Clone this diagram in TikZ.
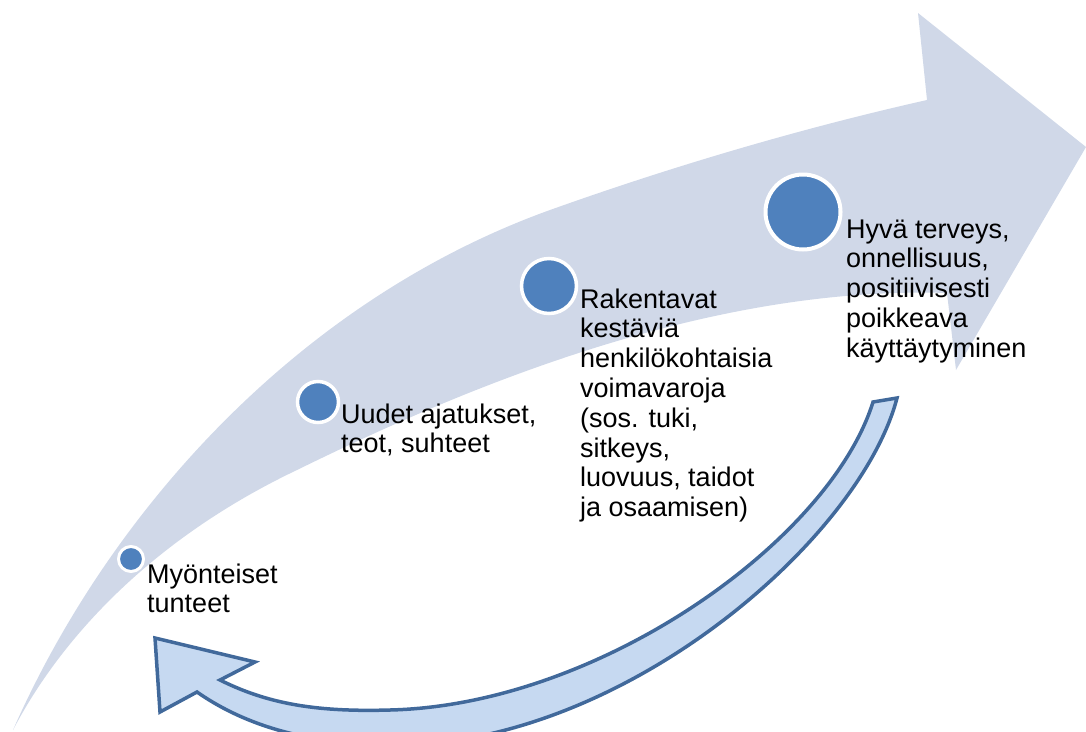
\documentclass[tikz,border=0pt]{standalone}
\usepackage{fontspec}
\setmainfont{Liberation Sans}
\definecolor{bandfill}{HTML}{D0D8E8}
\definecolor{dotfill}{HTML}{4F81BD}
\definecolor{loopfill}{HTML}{C6D9F1}
\definecolor{loopline}{HTML}{41699B}
\begin{document}
\begin{tikzpicture}[x=1pt,y=-1pt,
  dot/.style={circle,fill=dotfill,draw=white,inner sep=0pt},
  steptext/.style={anchor=base west,align=left,inner sep=0pt,
    font=\fontsize{27}{29.8}\selectfont}]
\useasboundingbox (0,0) rectangle (1086,731);
\clip (0,0) rectangle (1086,731);

% rising swoosh arrow
\fill[bandfill] (13,730) .. controls (110,510) and (300,300) .. (550,210)
  .. controls (690,160) and (820,124) .. (927,100)
  -- (918,13) -- (1086,147) -- (956,370) -- (947,293)
  .. controls (700,285) and (450,395) .. (297,470)
  .. controls (150,540) and (60,640) .. (13,730) -- cycle;

% returning loop arrow
\filldraw[fill=loopfill,draw=loopline,line width=3.5pt,line join=miter]
  (873,402) -- (897,398)
  .. controls (860,540) and (620,748) .. (390,745)
  .. controls (300,744) and (240,722) .. (197,692)
  -- (160,712) -- (155,638) -- (255,662) -- (220,680)
  .. controls (270,705) and (320,712) .. (390,710)
  .. controls (600,705) and (830,540) .. (873,402) -- cycle;

% stages (text nodes are placed by the baseline of their last line)
\node[dot,line width=3pt,minimum size=25pt]   (c1) at (131,559) {};
\node[dot,line width=3.5pt,minimum size=41pt] (c2) at (318,402) {};
\node[dot,line width=3.5pt,minimum size=55pt] (c3) at (549,286) {};
\node[dot,line width=4pt,minimum size=75pt]   (c4) at (803,212) {};

\node[steptext] (t1) at (147,612.8) {Myönteiset\\tunteet};
\node[steptext] (t2) at (341,452.8) {Uudet ajatukset,\\teot, suhteet};
\node[steptext] (t3) at (580,516.6) {Rakentavat\\kestäviä\\henkilökohtaisia\\voimavaroja\\(sos. tuki,\\sitkeys,\\luovuus, taidot\\ja osaamisen)};
\node[steptext] (t4) at (846,357.2) {Hyvä terveys,\\onnellisuus,\\positiivisesti\\poikkeava\\käyttäytyminen};
\end{tikzpicture}
\end{document}
